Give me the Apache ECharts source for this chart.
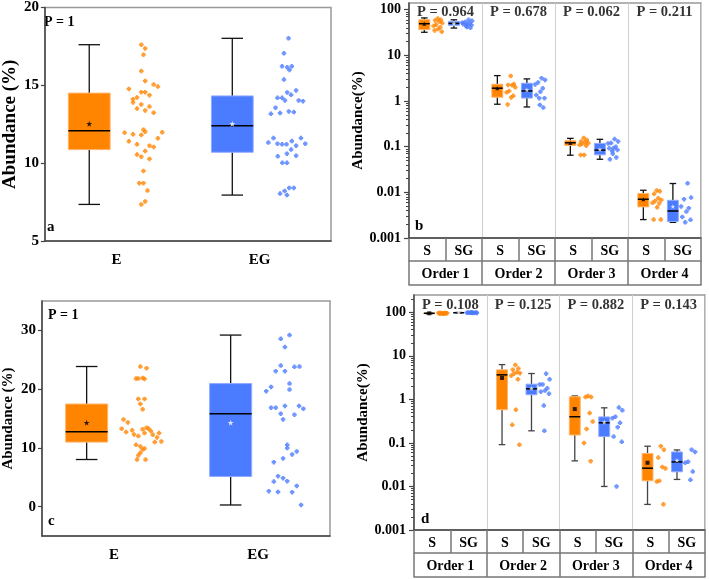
<!DOCTYPE html>
<html><head><meta charset="utf-8">
<script src="https://cdn.jsdelivr.net/npm/echarts@6/dist/echarts.min.js"></script>
<style>html,body{margin:0;padding:0;background:#fff}#c{width:709px;height:579px}</style>
</head><body><div id="c"></div>
<script>
// ---------- DATA ----------
const catAC = ['E', 'EG'];
const groupsBD = ['S', 'SG', 'S', 'SG', 'S', 'SG', 'S', 'SG'];
const orders = ['Order 1', 'Order 2', 'Order 3', 'Order 4'];
const pA = '1', pC = '1';
const pB = ['0.964', '0.678', '0.062', '0.211'];
const pD = ['0.108', '0.125', '0.882', '0.143'];
const ticksA = [5, 10, 15, 20];
const ticksC = [0, 10, 20, 30];
const ticksLog = [0.001, 0.01, 0.1, 1, 10, 100];

// box rows: [min, Q1, median, Q3, max]
const aEBox = [7.35, 10.87, 12.08, 14.5, 17.61], aEMean = 12.53;
const aEGBox = [7.95, 10.7, 12.4, 14.32, 18.02], aEGMean = 12.53;
const cEBox = [8.02, 10.98, 12.75, 17.47, 23.85], cEMean = 14.29;
const cEGBox = [0.28, 5.12, 15.82, 20.94, 29.2], cEGMean = 14.29;

const aEVals = [17.61,17.37,16.97,15.92,15.28,15.05,14.92,14.77,14.22,14.11,14.56,14.56,14.37,13.9,13.77,13.64,13.51,13.39,13.24,11.96,11.40,11.85,11.81,12.15,12.02,11.98,11.60,11.21,11.12,11.04,10.78,10.55,10.42,10.27,9.50,8.71,8.71,8.24,7.54,7.35];
const aEGVals = [18.02,17.06,16.22,16.16,16.22,15.99,15.37,14.2,14.2,14.03,14.54,14.39,14.67,14.03,13.98,13.56,13.17,13.22,13.32,13.28,11.61,11.32,11.25,11.21,11.21,11.42,11.61,11.25,11.12,10.44,10.61,10.87,10.48,10.02,10.02,8.05,8.22,8.41,8.41,7.95];
const cEVals = [23.85,23.56,21.8,21.8,21.9,21.74,18.33,18.33,17.47,16.56,14.85,14.34,13.26,12.98,12.69,12.29,13.15,13.43,13.26,12.86,12.52,12.01,12.24,12.52,11.78,10.98,11.1,10.53,10.24,9.9,9.73,9.16,8.71,8.02,8.02];
const cEGVals = [29.2,28.57,27.15,24.02,23.05,23.05,23.79,23.85,20.38,19.64,20.94,19.92,16.85,16.85,17.13,15.82,14.85,15.65,17.13,16.68,10.53,9.96,9.39,8.88,8.2,7.57,5.18,4.84,4.33,4.27,3.53,2.62,2.5,2.45,0.28];

const bSBox = [[32,36.4,49.3,60.3,66],[0.85,1.21,1.91,2.33,3.6],[0.065,0.106,0.1216,0.135,0.152],[0.00253,0.0048,0.00706,0.0094,0.0111]];
const bSMean = [49, 1.9, 0.12, 0.0071];
const bSGBox = [[39.6,45.3,50,55.5,60],[0.74,1.16,1.66,2.45,3.05],[0.053,0.0664,0.084,0.118,0.145],[0.0022,0.0023,0.0039,0.0067,0.0156]];
const bSGMean = [50, 1.75, 0.087, 0.0049];
const bSPts = [[64,60,58,55,51,47,44,41,37.6,35,33],[3.55,2.35,2.25,2.2,2.0,1.65,1.55,1.3,1.2,0.84],[0.155,0.14,0.13,0.125,0.12,0.115,0.11,0.105,0.066,0.066],[0.011,0.0105,0.0093,0.0074,0.0068,0.0065,0.0059,0.0057,0.0047,0.00253,0.00253]];
const bSGPts = [[60,57,54,52,50,49,48,46,44,42,40],[3.15,2.9,2.55,2.3,1.9,1.6,1.35,1.15,1.15,0.82,0.72],[0.147,0.13,0.12,0.118,0.1,0.092,0.092,0.085,0.08,0.07,0.058,0.053],[0.0158,0.0077,0.0071,0.0049,0.0045,0.0038,0.0029,0.0025,0.0022]];

const dSBox = [[92,93.5,95,96.5,97.5],[0.0914,0.58,3.66,4.77,6.3],[0.0387,0.152,0.40,1.15,1.2],[0.00387,0.0135,0.0263,0.057,0.084]];
const dSMean = [95, 3.1, 0.6, 0.035];
const dSGBox = [[96,97.5,98,98.5,99.2],[0.19,1.28,1.75,2.24,3.93],[0.01,0.14,0.29,0.396,0.64],[0.0145,0.0217,0.0366,0.062,0.069]];
const dSGMean = [98, 1.8, 0.3, 0.04];
const dSPts = [[93,94,94.5,95,95.5,96,96.5,97,93.5,95.2],[6.2,5.1,4.8,4.2,4.0,3.9,3.5,2.9,0.58,0.26,0.091],[1.2,1.13,1.13,0.486,0.31,0.21,0.1,0.038],[0.084,0.07,0.046,0.028,0.026,0.0135,0.013,0.0039]];
const dSGPts = [[96.5,97,97.5,98,98.2,98.5,98.8,99,99.3,97.8],[3.9,2.9,2.2,2.2,1.8,1.6,1.5,1.35,0.72,0.19],[0.65,0.56,0.40,0.37,0.29,0.23,0.14,0.106,0.01],[0.07,0.062,0.037,0.035,0.022,0.0142]];

// ---------- LAYOUT (jitter, in category units) ----------
const aEJit = [0.174,0.201,0.189,0.174,0.201,0.26,0.29,0.087,0.144,0.116,0.174,0.201,0.231,0.116,0.174,0.231,0.144,0.201,0.26,0.057,0.087,0.116,0.174,0.189,0.201,0.32,0.29,0.144,0.231,0.26,0.201,0.144,0.174,0.231,0.189,0.16,0.189,0.217,0.201,0.174];
const aEGJit = [0.203,0.171,0.158,0.194,0.226,0.21,0.171,0.126,0.158,0.178,0.194,0.221,0.256,0.274,0.304,0.112,0.08,0.144,0.205,0.24,0.098,0.062,0.126,0.158,0.189,0.226,0.29,0.32,0.256,0.128,0.192,0.221,0.256,0.16,0.192,0.144,0.176,0.208,0.24,0.192];
const cEJit = [0.183,0.226,0.153,0.169,0.199,0.212,0.169,0.212,0.183,0.199,0.066,0.096,0.053,0.126,0.084,0.139,0.199,0.226,0.24,0.256,0.212,0.169,0.269,0.313,0.299,0.283,0.329,0.153,0.183,0.212,0.199,0.183,0.169,0.16,0.219];
const cEGJit = [0.219,0.158,0.187,0.158,0.123,0.187,0.253,0.288,0.091,0.057,0.219,0.219,0.091,0.123,0.187,0.158,0.174,0.253,0.285,0.315,0.203,0.203,0.269,0.237,0.174,0.11,0.139,0.174,0.203,0.11,0.269,0.075,0.139,0.237,0.299];
const jitPattern = [0.45,0.75,0.2,0.6,0.9,0.3,0.05,0.7,0.5,0.15,0.85,0.4];

// ---------- STYLE ----------
const FONT = 'Liberation Serif';
const orange = '#FF8400', blue = '#4B7BFF';
const orangeEdge = '#FFB56A', blueEdge = '#92ABFF';
const axisCol = '#444', frameCol = '#999', tableCol = '#777';
const dot = 'path://M1,0H3V1H4V3H3V4H1V3H0V1H1Z';
const star = 'path://M50,0L61,35L98,35L68,57L79,91L50,70L21,91L32,57L2,35L39,35Z';
const lbl = (size, extra) => Object.assign({fontFamily: FONT, fontWeight: 'bold', fontSize: size, color: '#000'}, extra || {});

const minorLog = [];
for (let e = -3; e <= 2; e++) for (let m = 2; m <= 9; m++) minorLog.push(+(m * Math.pow(10, e)).toPrecision(2));

function boxSeries(xi, yi, rows, fill, edge, hw, chw, wcol) {
  return {
    type: 'custom', xAxisIndex: xi, yAxisIndex: yi, z: 3, silent: true,
    encode: {x: 0, y: [1, 2, 3, 4, 5]},
    data: rows,
    renderItem(params, api) {
      const x = api.value(0);
      const yv = i => api.coord([x, api.value(i)])[1];
      const px = dx => api.coord([x + dx, api.value(3)])[0];
      const X = px(0), L = px(-hw), R = px(hw), CL = px(-chw), CR = px(chw);
      const yMin = yv(1), yQ1 = yv(2), yMed = yv(3), yQ3 = yv(4), yMax = yv(5);
      const ls = {stroke: wcol, lineWidth: 1.3};
      return {type: 'group', children: [
        {type: 'line', shape: {x1: X, y1: yMax, x2: X, y2: yQ3}, style: ls},
        {type: 'line', shape: {x1: X, y1: yQ1, x2: X, y2: yMin}, style: ls},
        {type: 'line', shape: {x1: CL, y1: yMax, x2: CR, y2: yMax}, style: ls},
        {type: 'line', shape: {x1: CL, y1: yMin, x2: CR, y2: yMin}, style: ls},
        {type: 'rect', shape: {x: L, y: yQ3, width: R - L, height: yQ1 - yQ3}, style: {fill: fill, stroke: edge, lineWidth: 1}},
        {type: 'line', shape: {x1: L, y1: yMed, x2: R, y2: yMed}, style: {stroke: '#000', lineWidth: 1.5}}
      ]};
    }
  };
}
function pts(xi, yi, data, color) {
  return {type: 'scatter', xAxisIndex: xi, yAxisIndex: yi, data: data, symbol: dot, symbolSize: 4.5, itemStyle: {color: color}, z: 4, silent: true};
}
function means(xi, yi, data, symbol, size, color) {
  return {type: 'scatter', xAxisIndex: xi, yAxisIndex: yi, data: data, symbol: symbol, symbolSize: size, itemStyle: {color: color}, z: 5, silent: true};
}
function pLabels(xi, yi, yPos, texts) {
  return {type: 'scatter', xAxisIndex: xi, yAxisIndex: yi, symbolSize: 1, itemStyle: {color: 'transparent'}, z: 6, silent: true,
    data: texts.map((t, k) => [k + 0.5, yPos]),
    label: Object.assign({show: true, position: 'inside', formatter: p => 'P = ' + texts[p.dataIndex]}, lbl(14.5))};
}

// panel a/c geometry (category units)
const AC_BOX_OFF = -0.19, AC_HW = 0.146, AC_CHW = 0.075;
// panel b/d geometry (order units)
const S_BOX = 0.21, SG_BOX = 0.615, BD_HW = 0.075, BD_CHW = 0.045;
const S_PT0 = 0.33, S_PTW = 0.14, SG_PT0 = 0.72, SG_PTW = 0.16;

function acAxesX(gi) {
  return [
    {gridIndex: gi, type: 'value', min: 0, max: 2, show: false},
    {gridIndex: gi, type: 'category', data: catAC, position: 'bottom',
     axisLine: {lineStyle: {color: axisCol, width: 1.5}},
     axisTick: {alignWithLabel: true, length: 5, lineStyle: {color: axisCol, width: 1.5}},
     axisLabel: lbl(15, {margin: 12}), splitLine: {show: false}}
  ];
}
function bdAxesX(gi) {
  return [
    {gridIndex: gi, type: 'value', min: 0, max: 4, show: false},
    {gridIndex: gi, type: 'category', data: groupsBD, position: 'bottom',
     axisLine: {lineStyle: {color: axisCol, width: 1.5}},
     axisTick: {show: true, interval: 0, length: 23, lineStyle: {color: tableCol, width: 1.5}},
     axisLabel: lbl(14, {interval: 0, margin: 6}), splitLine: {show: false}},
    {gridIndex: gi, type: 'category', data: orders, position: 'bottom', offset: 23,
     axisLine: {lineStyle: {color: tableCol, width: 1.5}},
     axisTick: {show: true, interval: 0, length: 24, lineStyle: {color: tableCol, width: 1.5}},
     axisLabel: lbl(14, {interval: 0, margin: 6}),
     splitLine: {show: true, interval: 0, lineStyle: {color: '#cfcfcf', width: 1}}},
    {gridIndex: gi, type: 'category', data: orders, position: 'bottom', offset: 47,
     axisLine: {lineStyle: {color: tableCol, width: 1.5}},
     axisTick: {show: false}, axisLabel: {show: false}, splitLine: {show: false}}
  ];
}
function logAxesY(gi, max, nameGap) {
  return [
    {gridIndex: gi, type: 'log', logBase: 10, min: 0.001, max: max, position: 'left',
     name: 'Abundance(%)', nameLocation: 'middle', nameGap: nameGap, nameTextStyle: lbl(15),
     axisLine: {show: true, lineStyle: {color: axisCol, width: 1.5}},
     axisTick: {show: true, length: 5, customValues: ticksLog, lineStyle: {color: axisCol, width: 1.2}},
     axisLabel: lbl(14, {margin: 8, customValues: ticksLog, formatter: v => String(+(+v).toPrecision(3))}),
     splitLine: {show: false}, minorTick: {show: false}},
    {gridIndex: gi, type: 'log', logBase: 10, min: 0.001, max: max, position: 'left',
     axisLine: {show: false}, axisLabel: {show: false}, splitLine: {show: false},
     axisTick: {show: true, length: 3, customValues: minorLog, lineStyle: {color: axisCol, width: 1}}}
  ];
}

const series = [];
// ---- panel a (x 0,1 ; y 0)
series.push(boxSeries(0, 0, [[0.5 + AC_BOX_OFF].concat(aEBox)], orange, orangeEdge, AC_HW, AC_CHW, '#111'));
series.push(boxSeries(0, 0, [[1.5 + AC_BOX_OFF].concat(aEGBox)], blue, blueEdge, AC_HW, AC_CHW, '#111'));
series.push(pts(0, 0, aEVals.map((v, i) => [0.5 + aEJit[i], v]), orange));
series.push(pts(0, 0, aEGVals.map((v, i) => [1.5 + aEGJit[i], v]), blue));
series.push(means(0, 0, [[0.5 + AC_BOX_OFF, aEMean]], star, 6, '#000'));
series.push(means(0, 0, [[1.5 + AC_BOX_OFF, aEGMean]], star, 6, '#fff'));
// ---- panel c (x 6,7 ; y 3)
series.push(boxSeries(6, 3, [[0.5 + AC_BOX_OFF].concat(cEBox)], orange, orangeEdge, AC_HW, AC_CHW, '#111'));
series.push(boxSeries(6, 3, [[1.5 + AC_BOX_OFF].concat(cEGBox)], blue, blueEdge, AC_HW, AC_CHW, '#111'));
series.push(pts(6, 3, cEVals.map((v, i) => [0.5 + cEJit[i], v]), orange));
series.push(pts(6, 3, cEGVals.map((v, i) => [1.5 + cEGJit[i], v]), blue));
series.push(means(6, 3, [[0.5 + AC_BOX_OFF, cEMean]], star, 6, '#000'));
series.push(means(6, 3, [[1.5 + AC_BOX_OFF, cEGMean]], star, 6, '#fff'));

function bdPanel(xi, yi, sBox, sMean, sgBox, sgMean, sPts, sgPts, sMeanSym, whisk) {
  series.push(boxSeries(xi, yi, sBox.map((r, k) => [k + S_BOX].concat(r)), orange, orangeEdge, BD_HW, BD_CHW, whisk));
  series.push(boxSeries(xi, yi, sgBox.map((r, k) => [k + SG_BOX].concat(r)), blue, blueEdge, BD_HW, BD_CHW, whisk));
  const sp = [], sgp = [];
  sPts.forEach((arr, k) => arr.forEach((v, i) => sp.push([k + S_PT0 + jitPattern[i % jitPattern.length] * S_PTW, v])));
  sgPts.forEach((arr, k) => arr.forEach((v, i) => sgp.push([k + SG_PT0 + jitPattern[(i + 3) % jitPattern.length] * SG_PTW, v])));
  series.push(pts(xi, yi, sp, orange));
  series.push(pts(xi, yi, sgp, blue));
  series.push(means(xi, yi, sMean.map((m, k) => [k + S_BOX, m]), sMeanSym, 4, '#000'));
  series.push(means(xi, yi, sgMean.map((m, k) => [k + SG_BOX, m]), star, 5, '#fff'));
}
bdPanel(2, 1, bSBox, bSMean, bSGBox, bSGMean, bSPts, bSGPts, 'triangle', '#111');
bdPanel(8, 4, dSBox, dSMean, dSGBox, dSGMean, dSPts, dSGPts, 'rect', '#444');
series.push(pLabels(2, 1, 90, pB));
series.push(pLabels(8, 4, 147, pD));

const gridStyle = {show: true, borderColor: frameCol, borderWidth: 1.5, backgroundColor: 'transparent'};
const option = {
  animation: false,
  backgroundColor: '#fff',
  grid: [
    Object.assign({left: 39, top: 6, width: 292, height: 235}, gridStyle),
    Object.assign({left: 409, top: 3, width: 292, height: 235}, gridStyle),
    Object.assign({left: 39, top: 301, width: 291, height: 235}, gridStyle),
    Object.assign({left: 414, top: 295, width: 291, height: 235}, gridStyle)
  ],
  xAxis: [].concat(acAxesX(0), bdAxesX(1), acAxesX(2), bdAxesX(3)),
  yAxis: [
    {gridIndex: 0, type: 'value', min: 5, max: 20, interval: 5, position: 'left',
     name: 'Abundance (%)', nameLocation: 'middle', nameGap: 23, nameTextStyle: lbl(19),
     axisLine: {show: true, lineStyle: {color: axisCol, width: 1.5}},
     axisTick: {show: true, length: 4, lineStyle: {color: axisCol, width: 1.2}},
     axisLabel: lbl(15, {margin: 6}), splitLine: {show: false}},
  ].concat(logAxesY(1, 140, 43), [
    {gridIndex: 2, type: 'value', min: -5, max: 35, position: 'left',
     name: 'Abundance (%)', nameLocation: 'middle', nameGap: 26, nameTextStyle: lbl(15),
     axisLine: {show: true, lineStyle: {color: axisCol, width: 1.5}},
     axisTick: {show: true, length: 4, customValues: ticksC, lineStyle: {color: axisCol, width: 1.2}},
     axisLabel: lbl(15, {margin: 6, customValues: ticksC}), splitLine: {show: false}}
  ], logAxesY(3, 250, 42)),
  graphic: [
    {type: 'text', left: 44, top: 15, style: {text: 'P = ' + pA, font: 'bold 14px "Liberation Serif"', fill: '#000'}},
    {type: 'text', left: 48, top: 308, style: {text: 'P = ' + pC, font: 'bold 14px "Liberation Serif"', fill: '#000'}},
    {type: 'text', left: 47, top: 220, style: {text: 'a', font: 'bold 15px "Liberation Serif"', fill: '#000'}},
    {type: 'text', left: 415, top: 219, style: {text: 'b', font: 'bold 15px "Liberation Serif"', fill: '#000'}},
    {type: 'text', left: 48, top: 514, style: {text: 'c', font: 'bold 15px "Liberation Serif"', fill: '#000'}},
    {type: 'text', left: 421, top: 512, style: {text: 'd', font: 'bold 15px "Liberation Serif"', fill: '#000'}}
  ],
  series: series
};
const chart = echarts.init(document.getElementById('c'));
chart.setOption(option);
</script>
</body></html>
